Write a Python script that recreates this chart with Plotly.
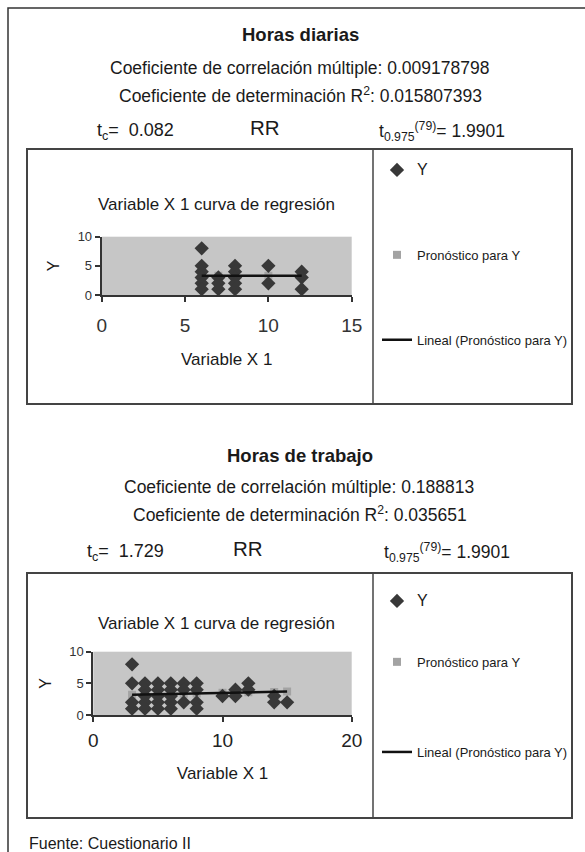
import plotly.graph_objects as go

W, H = 585, 852

# ---------------- data ----------------
# Horas diarias
hd_x = [6, 6, 6, 6, 6, 6, 7, 7, 7, 8, 8, 8, 8, 8, 10, 10, 12, 12, 12]
hd_y = [8, 5, 4, 3, 2, 1, 3, 2, 1, 5, 4, 3, 2, 1, 5, 2, 4, 3, 1]
hd_pred_x = [6, 7, 8, 10, 12]
hd_pred_y = [3.3, 3.3, 3.3, 3.3, 3.3]
hd_xticks = [0, 5, 10, 15]

# Horas de trabajo
ht_x = [3, 3, 3, 3, 4, 4, 4, 4, 4, 5, 5, 5, 5, 5, 6, 6, 6, 6, 6,
        7, 7, 7, 8, 8, 8, 8, 10, 11, 11, 12, 12, 14, 14, 15]
ht_y = [8, 5, 2, 1, 5, 4, 3, 2, 1, 5, 4, 3, 2, 1, 5, 4, 3, 2, 1,
        5, 4, 2, 5, 4, 2, 1, 3, 4, 3, 5, 4, 3, 2, 2]
ht_pred_x = [3, 4, 5, 6, 7, 8, 10, 11, 12, 14, 15]
ht_pred_y = [3.2, 3.25, 3.3, 3.3, 3.35, 3.4, 3.5, 3.55, 3.6, 3.65, 3.7]
ht_xticks = [0, 10, 20]

y_ticks = [0, 5, 10]

FONT = "Liberation Sans, Arial, sans-serif"
NARROW = "Liberation Sans Narrow, Arial Narrow, Liberation Sans, Arial, sans-serif"
DIAMOND = "#383838"
SQUARE = "#a3a3a3"
PLOTBG = "#c6c6c6"


def fx(px):
    return px / W


def fy(py):
    return 1 - py / H


fig = go.Figure()

# ---- chart 1 traces ----
fig.add_trace(go.Scatter(x=hd_pred_x, y=hd_pred_y, mode="markers", name="Pronóstico para Y",
                         marker=dict(symbol="square", size=8, color=SQUARE),
                         xaxis="x", yaxis="y", legend="legend", legendgroup="a2", legendrank=2))
fig.add_trace(go.Scatter(x=hd_x, y=hd_y, mode="markers", name="<span style='font-size:16px'>Y</span>",
                         marker=dict(symbol="diamond", size=11, color=DIAMOND),
                         xaxis="x", yaxis="y", legend="legend", legendgroup="a1", legendrank=1))
fig.add_trace(go.Scatter(x=hd_pred_x, y=hd_pred_y, mode="lines", name="Lineal (Pronóstico para Y)",
                         line=dict(color="#111111", width=2.5),
                         xaxis="x", yaxis="y", legend="legend", legendgroup="a3", legendrank=3))

# ---- chart 2 traces ----
fig.add_trace(go.Scatter(x=ht_pred_x, y=ht_pred_y, mode="markers", name="Pronóstico para Y",
                         marker=dict(symbol="square", size=8, color=SQUARE),
                         xaxis="x2", yaxis="y2", legend="legend2", legendgroup="b2", legendrank=2))
fig.add_trace(go.Scatter(x=ht_x, y=ht_y, mode="markers", name="<span style='font-size:16px'>Y</span>",
                         marker=dict(symbol="diamond", size=11, color=DIAMOND),
                         xaxis="x2", yaxis="y2", legend="legend2", legendgroup="b1", legendrank=1))
fig.add_trace(go.Scatter(x=ht_pred_x, y=ht_pred_y, mode="lines", name="Lineal (Pronóstico para Y)",
                         line=dict(color="#111111", width=2.5),
                         xaxis="x2", yaxis="y2", legend="legend3", legendgroup="b3", legendrank=3))

axis_common = dict(showline=True, linecolor="#333333", linewidth=2, ticks="outside",
                   ticklen=5, tickwidth=2, tickcolor="#333333", showgrid=False,
                   zeroline=False, automargin=False, fixedrange=True)

fig.update_layout(
    width=W, height=H, autosize=False,
    margin=dict(l=0, r=0, t=0, b=0),
    paper_bgcolor="white", plot_bgcolor=PLOTBG,
    font=dict(family=FONT, color="#1a1a1a"),
    xaxis=dict(domain=[fx(101.7), fx(351.7)], range=[0, 15], tickvals=hd_xticks,
               anchor="y", tickfont=dict(family=NARROW, size=19, color="#333333"),
               ticklabelstandoff=7,
               title=dict(text="Variable X 1", font=dict(size=17), standoff=18),
               **axis_common),
    yaxis=dict(domain=[fy(295), fy(236.7)], range=[0, 10], tickvals=y_ticks,
               anchor="x", tickfont=dict(size=13, color="#333333"),
               title=dict(text="Y", font=dict(size=16), standoff=14),
               **axis_common),
    xaxis2=dict(domain=[fx(93.3), fx(351.7)], range=[0, 20], tickvals=ht_xticks,
                anchor="y2", tickfont=dict(size=19, color="#222222"),
                ticklabelstandoff=2,
                title=dict(text="Variable X 1", font=dict(size=17), standoff=17),
                **axis_common),
    yaxis2=dict(domain=[fy(715), fy(651.7)], range=[0, 10], tickvals=y_ticks,
                anchor="x2", tickfont=dict(size=13, color="#333333"),
                title=dict(text="Y", font=dict(size=16), standoff=14),
                **axis_common),
    legend=dict(x=fx(377), y=fy(155), xanchor="left", yanchor="top",
                bgcolor="rgba(0,0,0,0)", traceorder="grouped", tracegroupgap=65,
                font=dict(size=13, family=FONT, color="#1a1a1a")),
    legend2=dict(x=fx(377), y=fy(586), xanchor="left", yanchor="top",
                 bgcolor="rgba(0,0,0,0)", traceorder="grouped", tracegroupgap=41,
                 font=dict(size=13, family=FONT, color="#1a1a1a")),
    legend3=dict(x=fx(377), y=fy(737), xanchor="left", yanchor="top",
                 bgcolor="rgba(0,0,0,0)",
                 font=dict(size=13, family=FONT, color="#1a1a1a")),
    showlegend=True,
)

# ---- frames ----
shapes = []
# outer frame (extends beyond right/bottom edge)
shapes.append(dict(type="rect", xref="paper", yref="paper", x0=fx(8), x1=fx(592),
                   y0=fy(870), y1=fy(8), line=dict(color="#333333", width=1.5)))
for top, bottom in [(149, 404), (573, 818)]:
    shapes.append(dict(type="rect", xref="paper", yref="paper", x0=fx(27), x1=fx(572),
                       y0=fy(bottom), y1=fy(top), line=dict(color="#444444", width=2)))
    shapes.append(dict(type="line", xref="paper", yref="paper", x0=fx(373), x1=fx(373),
                       y0=fy(bottom), y1=fy(top), line=dict(color="#444444", width=1.5)))
fig.update_layout(shapes=shapes)

# ---- texts ----
ann = []


def text(t, x, y, size=15, anchor="center", bold=False):
    if bold:
        t = "<b>" + t + "</b>"
    ann.append(dict(text=t, x=fx(x), y=fy(y), xref="paper", yref="paper", showarrow=False,
                    xanchor=anchor, yanchor="middle", font=dict(size=size, family=FONT, color="#1a1a1a")))


blocks = [
    dict(title="Horas diarias", r="0.009178798", r2="0.015807393", tc="0.082",
         ty=34, ry=68, r2y=95, tcy=131, tcx=95, rrx=265, rry=128, ttx=377, sub_y=205),
    dict(title="Horas de trabajo", r="0.188813", r2="0.035651", tc="1.729",
         ty=455, ry=487, r2y=514, tcy=552, tcx=85, rrx=248, rry=548, ttx=382, sub_y=623),
]
for b in blocks:
    text(b["title"], 300, b["ty"], size=18.5, bold=True)
    text("Coeficiente de correlación múltiple: " + b["r"], 299, b["ry"], size=17.5)
    text("Coeficiente de determinación R<sup>2</sup>: " + b["r2"], 300, b["r2y"], size=17.5)
    text("t<sub>c</sub>=  " + b["tc"], b["tcx"], b["tcy"], size=18, anchor="left")
    text("RR", b["rrx"], b["rry"], size=20.5)
    text("t<sub>0.975</sub><sup>(79)</sup>= 1.9901", b["ttx"], b["tcy"], size=17.5, anchor="left")
    text("Variable X 1 curva de regresión", 216, b["sub_y"], size=17)

text("Fuente: Cuestionario II", 27, 843, size=16, anchor="left")
fig.update_layout(annotations=ann)

fig.write_html("out.html")
